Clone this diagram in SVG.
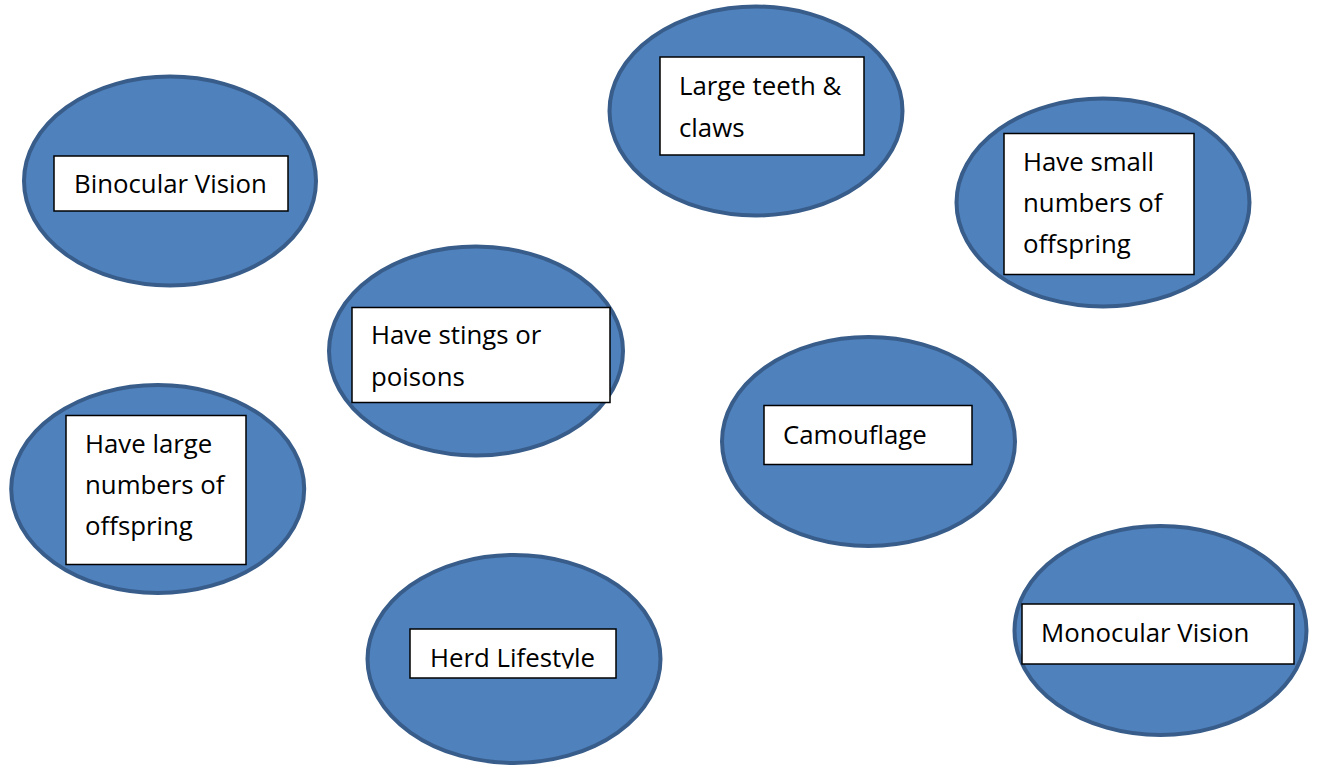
<svg xmlns="http://www.w3.org/2000/svg" width="1317" height="765" viewBox="0 0 1317 765">
<style>
.bubble{fill:#4F81BD;stroke:#385D8A;stroke-width:4}
.box{fill:#FFFFFF;stroke:#000000;stroke-width:1.5}
.lbl{font-family:"Open Sans","Liberation Sans",sans-serif;font-size:25.8px;fill:#000000}
</style>
<defs>
<clipPath id="clipHerd"><rect x="410" y="629" width="206" height="39.5"/></clipPath>
</defs>
<rect x="0" y="0" width="1317" height="765" fill="#FFFFFF"/>
<g id="connectors"></g>
<g id="node-binocular">
<ellipse class="bubble" cx="170" cy="181" rx="146" ry="104.5"/>
<rect class="box" x="54" y="156" width="234" height="55"/>
<text class="lbl" x="74" y="193">Binocular Vision</text>
</g>
<g id="node-teeth">
<ellipse class="bubble" cx="756" cy="111" rx="146.5" ry="104.5"/>
<rect class="box" x="660" y="57" width="204" height="98"/>
<text class="lbl" x="679" y="95">Large teeth &amp;</text>
<text class="lbl" x="679" y="136.5">claws</text>
</g>
<g id="node-small-offspring">
<ellipse class="bubble" cx="1103" cy="202.5" rx="146.5" ry="104"/>
<rect class="box" x="1004" y="133.5" width="190" height="141"/>
<text class="lbl" x="1023" y="171">Have small</text>
<text class="lbl" x="1023" y="212">numbers of</text>
<text class="lbl" x="1023" y="253">offspring</text>
</g>
<g id="node-stings">
<ellipse class="bubble" cx="476" cy="351" rx="147" ry="104.5"/>
<rect class="box" x="352" y="307.5" width="258" height="95"/>
<text class="lbl" x="371" y="343.5">Have stings or</text>
<text class="lbl" x="371" y="385.5">poisons</text>
</g>
<g id="node-camouflage">
<ellipse class="bubble" cx="868.5" cy="441.5" rx="146.5" ry="104.5"/>
<rect class="box" x="764" y="405.5" width="208" height="59"/>
<text class="lbl" x="783" y="443.5">Camouflage</text>
</g>
<g id="node-large-offspring">
<ellipse class="bubble" cx="157.7" cy="489" rx="146.5" ry="104"/>
<rect class="box" x="66" y="415.5" width="180" height="149"/>
<text class="lbl" x="85" y="452.5">Have large</text>
<text class="lbl" x="85" y="494">numbers of</text>
<text class="lbl" x="85" y="535">offspring</text>
</g>
<g id="node-herd">
<ellipse class="bubble" cx="514" cy="659" rx="146.5" ry="104"/>
<rect class="box" x="410" y="629" width="206" height="49"/>
<text class="lbl" x="430" y="667" clip-path="url(#clipHerd)">Herd Lifestyle</text>
</g>
<g id="node-monocular">
<ellipse class="bubble" cx="1160.5" cy="630.5" rx="146" ry="104.5"/>
<rect class="box" x="1022" y="604" width="272" height="60"/>
<text class="lbl" x="1041" y="642">Monocular Vision</text>
</g>
</svg>
